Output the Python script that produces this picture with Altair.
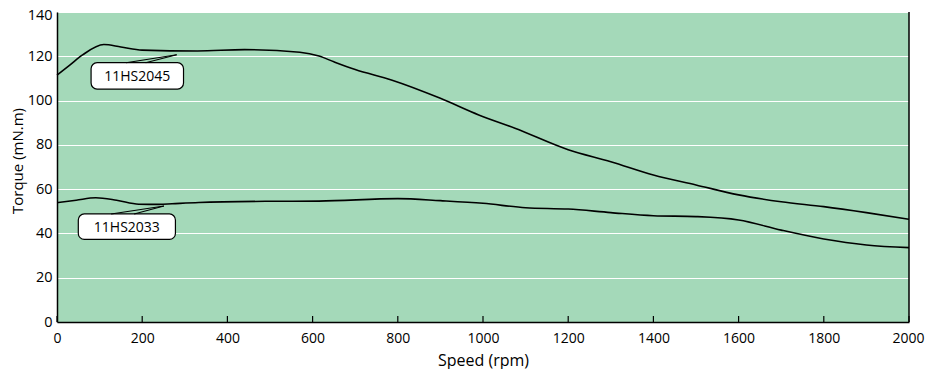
import altair as alt
import pandas as pd

# ---- data ----
s45_speed = [0, 30, 60, 110, 150, 200, 330, 440, 570, 615, 650, 700, 785, 900, 990, 1075,
             1200, 1300, 1400, 1500, 1600, 1700, 1800, 1900, 2000]
s45_torque = [111.5, 116.0, 120.6, 125.3, 124.2, 122.8, 122.4, 123.0, 121.8, 120.1, 117.5,
              114.0, 109.3, 101.0, 93.5, 87.5, 77.8, 72.4, 66.4, 61.9, 57.4, 54.3, 52.1, 49.4, 46.4]

s33_speed = [0, 45, 91, 140, 192, 240, 270, 333, 490, 615, 800, 900, 1000, 1100, 1200,
             1300, 1400, 1500, 1600, 1700, 1800, 1900, 2000]
s33_torque = [53.9, 55.0, 56.1, 55.0, 53.2, 53.1, 53.4, 54.0, 54.5, 54.6, 55.7, 54.8, 53.6,
              51.6, 51.0, 49.4, 48.0, 47.6, 46.1, 41.5, 37.5, 34.8, 33.6]

x_ticks = [0, 200, 400, 600, 800, 1000, 1200, 1400, 1600, 1800, 2000]
y_ticks = [0, 20, 40, 60, 80, 100, 120, 140]

# callout labels: box extents, wedge base (a, b) and tip, in data units
label_names = ["11HS2045", "11HS2033"]
box_x0 = [80, 50]
box_x1 = [297, 278]
box_y0 = [105.2, 37.3]
box_y1 = [117.1, 48.8]
wedge_ax = [162, 127]
wedge_bx = [208, 181]
wedge_tx = [281, 251]
wedge_ty = [120.7, 52.4]

W, H = 852, 310
FONT = "Open Sans"
BG = "#a4d9b9"

curves = pd.DataFrame(
    [{"speed": s, "torque": t, "model": "11HS2045"} for s, t in zip(s45_speed, s45_torque)]
    + [{"speed": s, "torque": t, "model": "11HS2033"} for s, t in zip(s33_speed, s33_torque)]
)

xscale = alt.Scale(domain=[0, 2000], nice=False, zero=False)
yscale = alt.Scale(domain=[0, 140], nice=False)

xenc = alt.X("speed:Q", scale=xscale,
             axis=alt.Axis(values=x_ticks, format="d", title="Speed (rpm)", grid=False, ticks=False,
                           labelFlush=False, labelPadding=9, titlePadding=7,
                           domainColor="black", domainWidth=1.5, labelFont=FONT,
                           labelFontSize=14, titleFont=FONT, titleFontSize=16,
                           titleFontWeight="normal", labelColor="black", titleColor="black",
                           labelOffset={"condition": {"test": "datum.value == 2000", "value": -1},
                                        "value": 0}))
yenc = alt.Y("torque:Q", scale=yscale,
             axis=alt.Axis(values=y_ticks, format="d", title="Torque  (mN.m)", grid=True,
                           gridColor="white", gridWidth=1.2, gridOpacity=1, ticks=False,
                           labelFlush=False, labelPadding=5, titlePadding=2, titleY=148.5,
                           domainColor="black", domainWidth=1.5,
                           labelFont=FONT, labelFontSize=14.5, titleFont=FONT, titleFontSize=15,
                           titleFontWeight="normal", labelColor="black", titleColor="black",
                           labelOffset={"condition": {"test": "datum.value == 140", "value": 3},
                                        "value": 0}))

lines = alt.Chart(curves).mark_line(color="black", strokeWidth=1.6, interpolate="monotone").encode(
    x=xenc, y=yenc, detail="model:N"
)

# inward x ticks
ticks_df = pd.DataFrame({"speed": x_ticks})
tick_rules = alt.Chart(ticks_df).mark_rule(color="black", strokeWidth=1.2).encode(
    x=alt.X("speed:Q", scale=xscale), y=alt.value(H), y2=alt.value(H - 6)
)

# right border
border_df = pd.DataFrame({"speed": [2000]})
right_border = alt.Chart(border_df).mark_rule(color="black", strokeWidth=1.5).encode(
    x=alt.X("speed:Q", scale=xscale), y=alt.value(0), y2=alt.value(H)
)

# boxes
boxes_df = pd.DataFrame({"name": label_names, "x0": box_x0, "x1": box_x1,
                         "y0": box_y0, "y1": box_y1})
boxes_df["xc"] = (boxes_df["x0"] + boxes_df["x1"]) / 2
boxes_df["yc"] = (boxes_df["y0"] + boxes_df["y1"]) / 2
boxes = alt.Chart(boxes_df).mark_rect(fill="white", stroke="black", strokeWidth=1.2,
                                      cornerRadius=6).encode(
    x=alt.X("x0:Q", scale=xscale), x2="x1:Q",
    y=alt.Y("y0:Q", scale=yscale), y2="y1:Q"
)
texts = alt.Chart(boxes_df).mark_text(font=FONT, fontSize=14, color="black",
                                      baseline="middle", align="center", dy=1).encode(
    x=alt.X("xc:Q", scale=xscale), y=alt.Y("yc:Q", scale=yscale), text="name:N"
)

# wedges
wedge_rows = []
edge_rows = []
for i, name in enumerate(label_names):
    ax, bx, tx, ty, by = wedge_ax[i], wedge_bx[i], wedge_tx[i], wedge_ty[i], box_y1[i]
    up_at_b = by + (bx - ax) / (tx - ax) * (ty - by)
    wedge_rows += [
        {"name": name, "o": 0, "x": ax, "y": by, "y2": by - 0.35},
        {"name": name, "o": 1, "x": bx, "y": up_at_b, "y2": by - 0.35},
        {"name": name, "o": 2, "x": tx, "y": ty, "y2": ty},
    ]
    edge_rows += [
        {"seg": name + "a", "o": 0, "x": ax, "y": by},
        {"seg": name + "a", "o": 1, "x": tx, "y": ty},
        {"seg": name + "b", "o": 0, "x": bx, "y": by},
        {"seg": name + "b", "o": 1, "x": tx, "y": ty},
    ]
wedge_fill = alt.Chart(pd.DataFrame(wedge_rows)).mark_area(color="white", opacity=1).encode(
    x=alt.X("x:Q", scale=xscale), y=alt.Y("y:Q", scale=yscale), y2="y2:Q",
    detail="name:N", order="o:Q"
)
wedge_edges = alt.Chart(pd.DataFrame(edge_rows)).mark_line(color="black", strokeWidth=1.1).encode(
    x=alt.X("x:Q", scale=xscale), y=alt.Y("y:Q", scale=yscale), detail="seg:N", order="o:Q"
)

chart = alt.layer(
    lines, tick_rules, right_border, boxes, wedge_fill, wedge_edges, texts
).properties(
    width=W, height=H,
    background="white",
    autosize=alt.AutoSizeParams(type="none"),
    padding={"left": 49, "top": 4, "right": 16, "bottom": 47},
).configure_view(
    fill=BG, stroke=None
)

chart.save("out.html", embed_options={"renderer": "svg", "actions": False})
